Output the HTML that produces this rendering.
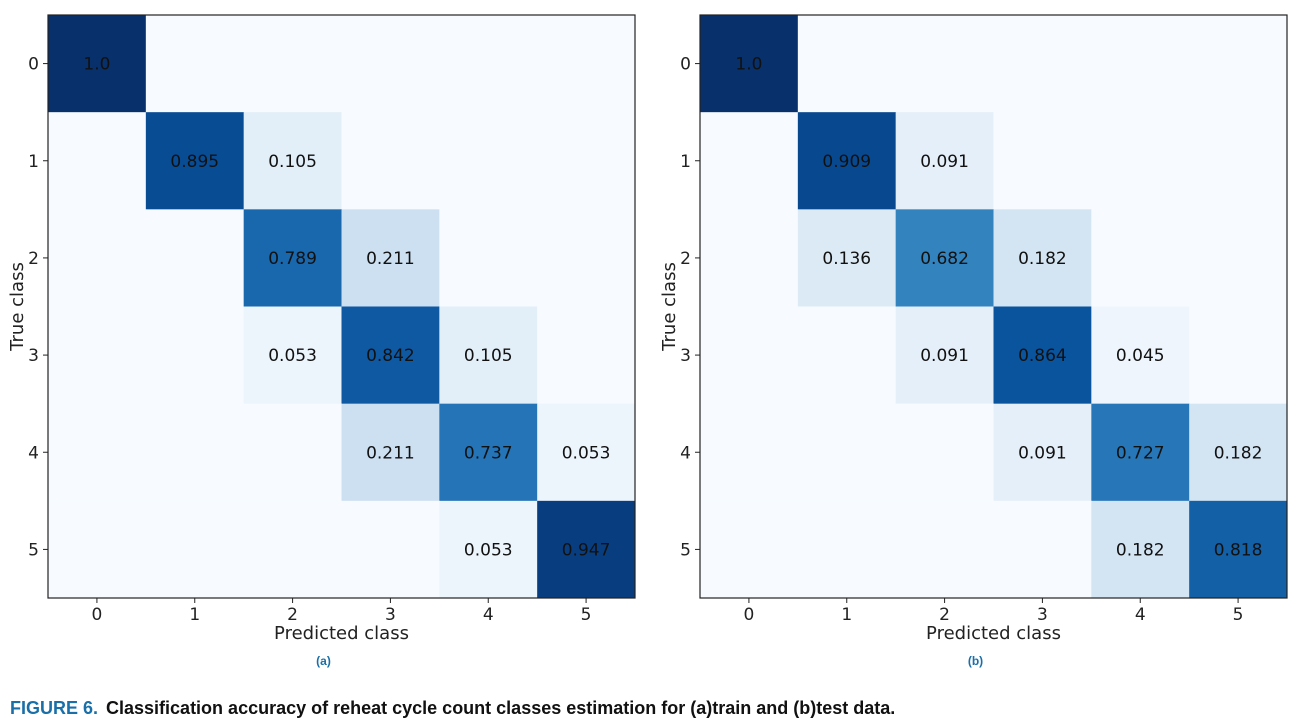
<!DOCTYPE html>
<html><head><meta charset="utf-8"><style>
body{margin:0;background:#fff;width:1303px;height:721px;overflow:hidden;font-family:"DejaVu Sans","Liberation Sans",sans-serif}
svg{position:absolute;left:0;top:0}
</style></head><body>
<svg id="s" width="1303" height="721">
<text x="10" y="714" font-family="Liberation Sans,sans-serif" font-weight="bold" font-size="18"><tspan fill="#1a6fa8">FIGURE 6.</tspan><tspan fill="#111" dx="8">Classification accuracy of reheat cycle count classes estimation for (a)train and (b)test data.</tspan></text>
</svg>
<script>
const classes=[0,1,2,3,4,5];
const trainVals=[
[1.0,0,0,0,0,0],
[0,0.895,0.105,0,0,0],
[0,0,0.789,0.211,0,0],
[0,0,0.053,0.842,0.105,0],
[0,0,0,0.211,0.737,0.053],
[0,0,0,0,0.053,0.947]];
const testVals=[
[1.0,0,0,0,0,0],
[0,0.909,0.091,0,0,0],
[0,0.136,0.682,0.182,0,0],
[0,0,0.091,0.864,0.045,0],
[0,0,0,0.091,0.727,0.182],
[0,0,0,0,0.182,0.818]];
const trainLabels=[["1.0"],["","0.895","0.105"],["","","0.789","0.211"],["","","0.053","0.842","0.105"],["","","","0.211","0.737","0.053"],["","","","","0.053","0.947"]];
const testLabels=[["1.0"],["","0.909","0.091"],["","0.136","0.682","0.182"],["","","0.091","0.864","0.045"],["","","","0.091","0.727","0.182"],["","","","","0.182","0.818"]];
const stops=["#f7fbff","#deebf7","#c6dbef","#9ecae1","#6baed6","#4292c6","#2171b5","#08519c","#08306b"];
function hx(c){return [1,3,5].map(i=>parseInt(c.substr(i,2),16));}
function blues(v){v=Math.max(0,Math.min(1,v));const p=v*8,i=Math.min(7,Math.floor(p)),f=p-i;const a=hx(stops[i]),b=hx(stops[i+1]);return "rgb("+a.map((x,k)=>Math.round(x+(b[k]-x)*f)).join(",")+")";}
const NS="http://www.w3.org/2000/svg",svg=document.getElementById("s");
function mk(t,at,p){const e=document.createElementNS(NS,t);for(const k in at)e.setAttribute(k,at[k]);(p||svg).appendChild(e);return e;}
function panel(x0,vals,labels,tag){
 const x1=x0+587,y0=15,y1=598,n=classes.length;
 const xs=i=>x0+(x1-x0)*i/n, ys=i=>y0+(y1-y0)*i/n;
 const g=mk("g",{});
 
 
 vals.forEach((row,r)=>row.forEach((v,c)=>{
  const rc=mk("rect",{x:xs(c),y:ys(r),width:xs(c+1)-xs(c)+0.5,height:ys(r+1)-ys(r)+0.5,fill:blues(v)},g);
  
  
  const L=(labels[r]||[])[c];
  if(L){const t=mk("text",{x:(xs(c)+xs(c+1))/2,y:(ys(r)+ys(r+1))/2+6,"text-anchor":"middle","font-size":"17",fill:"#111"},g);t.textContent=L;
   
   }
 }));
 const fr=mk("rect",{x:x0,y:y0,width:x1-x0,height:y1-y0,fill:"none",stroke:"#222","stroke-width":1.2},g);
 
 
 classes.forEach((c,i)=>{
  const cx=(xs(i)+xs(i+1))/2, cy=(ys(i)+ys(i+1))/2;
  mk("line",{x1:cx,x2:cx,y1:y1,y2:y1+5,stroke:"#222"},g);
  mk("line",{x1:x0-5,x2:x0,y1:cy,y2:cy,stroke:"#222"},g);
  const tx=mk("text",{x:cx,y:y1+22,"text-anchor":"middle","font-size":"17",fill:"#222"},g);tx.textContent=c;
  
  
  const ty=mk("text",{x:x0-9,y:cy+6,"text-anchor":"end","font-size":"17",fill:"#222"},g);ty.textContent=c;
  
  
 });
 const xl=mk("text",{x:(x0+x1)/2,y:639,"text-anchor":"middle","font-size":"18",fill:"#222"},g);xl.textContent="Predicted class";
 
 
 const yl=mk("text",{x:0,y:0,"text-anchor":"middle","font-size":"18",fill:"#222",transform:"translate("+(x0-25)+","+((y0+y1)/2)+") rotate(-90)"},g);yl.textContent="True class";
 
 
 const sl=mk("text",{x:(x0+x1)/2-18,y:665,"text-anchor":"middle","font-size":"12","font-weight":"bold","font-family":"Liberation Sans,sans-serif",fill:"#1a6fa8"},g);sl.textContent="("+tag+")";
 
 
}
panel(48,trainVals,trainLabels,"a");
panel(700,testVals,testLabels,"b");
</script>
</body></html>
